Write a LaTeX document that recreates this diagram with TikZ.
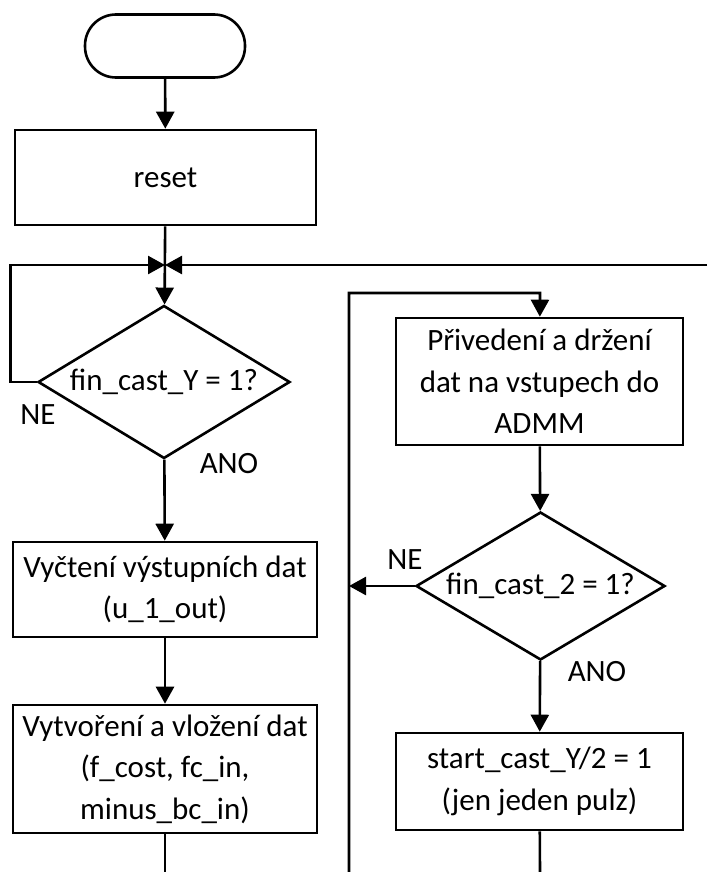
\documentclass[tikz,border=0pt]{standalone}
\usepackage{fontspec}
\setmainfont{Carlito}
\usepackage{tikz}
\usetikzlibrary{arrows.meta,shapes.geometric,calc}

\begin{document}
\begin{tikzpicture}[x=1pt,y=-1pt,
    line width=2.6pt,
    font=\fontsize{31}{41.5}\selectfont,
    flow/.style={-{Triangle[length=17pt,width=18pt]}},
    box/.style={draw,rectangle,align=center,inner sep=0pt},
    decision/.style 2 args={draw,diamond,inner sep=0pt,minimum width=#1,minimum height=#2}]
    \useasboundingbox (0,0) rectangle (707,872);

    % levy sloupec
    \node[box,rounded corners=31pt,minimum width=160pt,minimum height=63pt] (start) at (165,46) {};
    \node[box,minimum width=301pt,minimum height=95pt] (reset) at (165.5,177.5) {reset};
    \coordinate (join) at (165,265);
    \node[decision={252pt}{153pt},aspect=1.647] (finY) at (164,382) {fin\_cast\_Y = 1?};
    \node[box,minimum width=304pt,minimum height=95pt] (read) at (165,589.5) {Vyčtení výstupních dat\\(u\_1\_out)};
    \node[box,minimum width=304pt,minimum height=128pt] (write) at (165,769) {Vytvoření a vložení dat\\(f\_cost, fc\_in,\\minus\_bc\_in)};
    \coordinate (endL) at (165,872);

    % pravy sloupec
    \node[box,minimum width=287pt,minimum height=127pt] (hold) at (539.5,381.5) {Přivedení a držení\\dat na vstupech do\\ADMM};
    \node[decision={249pt}{148pt},aspect=1.682] (fin2) at (540.5,586) {fin\_cast\_2 = 1?};
    \node[box,minimum width=287pt,minimum height=97pt] (pulse) at (539.5,781.5) {start\_cast\_Y/2 = 1\\(jen jeden pulz)};
    \coordinate (endR) at (540,872);
    \coordinate (back) at (349,872);
    \coordinate (holdin) at (540,293);
    \coordinate (retY) at (707,265);

    \draw[flow] (start) -- (reset);
    \draw[flow] (reset) -- (finY);
    \draw[flow] (finY.west) -- ++(-26,0) |- (join);
    \draw[flow] (retY) -- (join);
    \draw[flow] (finY) -- (read);
    \draw[flow] (read) -- (write);
    \draw (write) -- (endL);

    \draw[flow] (back) |- (holdin) -- (hold);
    \draw[flow] (hold) -- (fin2);
    \draw[flow] (fin2.west) -- (fin2.west -| back);
    \draw[flow] (fin2) -- (pulse);
    \draw (pulse) -- (endR);

    \node (ne1) at (38,415) {NE};
    \node (ano1) at (229,464) {ANO};
    \node (ne2) at (405,560) {NE};
    \node (ano2) at (597,672) {ANO};
\end{tikzpicture}
\end{document}
